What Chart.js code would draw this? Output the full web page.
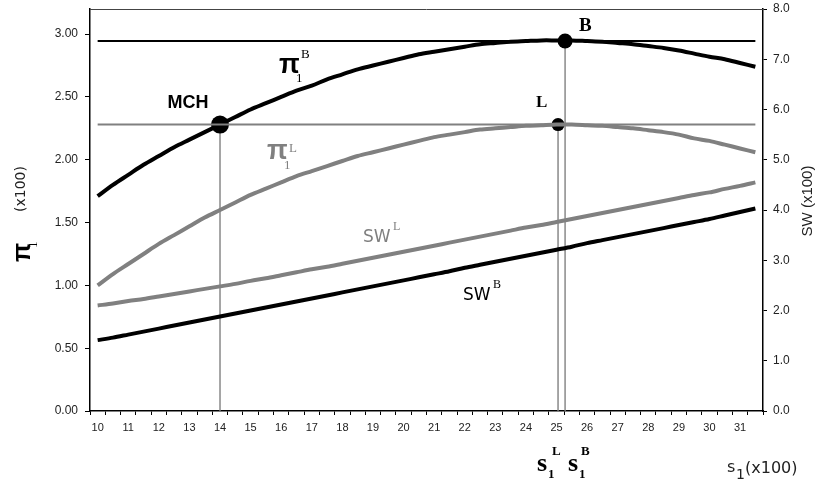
<!DOCTYPE html>
<html>
<head>
<meta charset="utf-8">
<script src="https://cdn.jsdelivr.net/npm/chart.js@4.4.1/dist/chart.umd.min.js"></script>
<style>
  body { margin: 0; background: #fff; }
  #chart { display: block; }
</style>
</head>
<body>
<canvas id="chart" width="820" height="480"></canvas>
<script>
// s1 (x100), one point every half unit
const sValues = [10, 10.5, 11, 11.5, 12, 12.5, 13, 13.5, 14, 14.5, 15, 15.5, 16, 16.5, 17, 17.5,
  18, 18.5, 19, 19.5, 20, 20.5, 21, 21.5, 22, 22.5, 23, 23.5, 24, 24.5, 25, 25.5,
  26, 26.5, 27, 27.5, 28, 28.5, 29, 29.5, 30, 30.5, 31, 31.5];

// left axis: pi1 (x100)
const piB = [1.71, 1.80, 1.88, 1.96, 2.03, 2.10, 2.16, 2.22, 2.28, 2.34, 2.40, 2.45, 2.50, 2.55, 2.59, 2.64,
  2.68, 2.72, 2.75, 2.78, 2.81, 2.84, 2.86, 2.88, 2.90, 2.92, 2.93, 2.94, 2.945, 2.95, 2.95, 2.95,
  2.945, 2.94, 2.93, 2.92, 2.905, 2.89, 2.87, 2.845, 2.82, 2.80, 2.77, 2.74];
const piL = [1.00, 1.09, 1.17, 1.25, 1.33, 1.40, 1.47, 1.54, 1.60, 1.66, 1.72, 1.77, 1.82, 1.87, 1.91, 1.95,
  1.99, 2.03, 2.06, 2.09, 2.12, 2.15, 2.18, 2.20, 2.22, 2.24, 2.25, 2.26, 2.27, 2.275, 2.28, 2.28,
  2.275, 2.27, 2.26, 2.25, 2.235, 2.22, 2.20, 2.17, 2.15, 2.12, 2.09, 2.06];

// right axis: SW (x100)
const swL = [2.10, 2.14, 2.19, 2.23, 2.28, 2.33, 2.38, 2.43, 2.48, 2.53, 2.59, 2.64, 2.70, 2.76, 2.82, 2.87,
  2.93, 2.99, 3.05, 3.11, 3.17, 3.23, 3.29, 3.35, 3.41, 3.47, 3.53, 3.59, 3.65, 3.70, 3.76, 3.82,
  3.88, 3.94, 4.00, 4.06, 4.12, 4.18, 4.24, 4.30, 4.35, 4.42, 4.48, 4.55];
const swB = [1.41, 1.46, 1.52, 1.58, 1.64, 1.70, 1.76, 1.82, 1.88, 1.94, 2.00, 2.06, 2.12, 2.18, 2.24, 2.30,
  2.36, 2.42, 2.48, 2.54, 2.60, 2.66, 2.72, 2.78, 2.85, 2.91, 2.97, 3.03, 3.09, 3.15, 3.21, 3.27,
  3.34, 3.40, 3.46, 3.52, 3.58, 3.64, 3.70, 3.76, 3.82, 3.89, 3.96, 4.03];

// marked points
const mchS = 14, mchPi = 2.28;
const sL = 25.05, piLmax = 2.28;
const sB = 25.28, piBmax = 2.945;

const xTickLabels = ['10', '11', '12', '13', '14', '15', '16', '17', '18', '19', '20',
  '21', '22', '23', '24', '25', '26', '27', '28', '29', '30', '31'];
const xMin = 9.75, xMax = 31.75;

const BLACK = '#000000';
const GRAY = '#808080';

const pts = arr => arr.map((v, i) => ({ x: sValues[i], y: v }));
const first = sValues[0], last = sValues[sValues.length - 1];

const ctx = document.getElementById('chart');

const textPlugin = {
  id: 'texts',
  afterDraw(chart) {
    const c = chart.ctx;
    const a = chart.chartArea;
    c.save();
    // top frame line
    c.strokeStyle = '#444';
    c.lineWidth = 1;
    c.beginPath();
    c.moveTo(a.left, a.top + 0.5);
    c.lineTo(a.right, a.top + 0.5);
    c.stroke();

    const put = (txt, x, y, font, color, align) => {
      c.font = font;
      c.fillStyle = color;
      c.textAlign = align || 'left';
      c.textBaseline = 'alphabetic';
      c.fillText(txt, x, y);
    };
    const SERIF = '"Liberation Serif", serif';
    const SANS = '"Liberation Sans", Arial, sans-serif';
    const WIDE = '"DejaVu Sans", sans-serif';

    put('MCH', 188, 108, 'bold 18px ' + SANS, BLACK, 'center');
    put('B', 579, 31, 'bold 19px ' + SERIF, BLACK);
    put('L', 536, 107, 'bold 17px ' + SERIF, BLACK);

    // pi1^B
    put('\u03c0', 279, 73, 'bold 27px ' + SANS, BLACK);
    put('1', 296, 82, '13px ' + SERIF, BLACK);
    put('B', 301, 58, '13px ' + SERIF, BLACK);
    // pi1^L
    put('\u03c0', 267, 159, 'bold 27px ' + SANS, GRAY);
    put('1', 284, 169, '13px ' + SERIF, GRAY);
    put('L', 289, 152, '13px ' + SERIF, GRAY);

    // SW labels
    put('SW', 363, 242, '17px ' + WIDE, GRAY);
    put('L', 393, 230, '12px ' + SERIF, GRAY);
    put('SW', 463, 300, '17px ' + WIDE, BLACK);
    put('B', 493, 288, '12px ' + SERIF, BLACK);

    // s1^L, s1^B
    put('s', 537, 471, 'bold 26px ' + SERIF, BLACK);
    put('1', 548, 478, 'bold 13px ' + SERIF, BLACK);
    put('L', 552, 455, 'bold 13px ' + SERIF, BLACK);
    put('s', 568, 471, 'bold 26px ' + SERIF, BLACK);
    put('1', 579, 478, 'bold 13px ' + SERIF, BLACK);
    put('B', 581, 455, 'bold 13px ' + SERIF, BLACK);

    // x axis title
    put('s', 727, 472, '16px ' + WIDE, '#222');
    put('1', 736, 479, '14px ' + WIDE, '#222');
    put('(x100)', 745, 473, '16px ' + WIDE, '#222');

    // left title, rotated
    c.save();
    c.translate(30, 262);
    c.rotate(-Math.PI / 2);
    put('\u03c0', 0, 0, 'bold 25px ' + SANS, BLACK);
    put('1', 14, 7, '13px ' + SERIF, BLACK);
    put('(x100)', 50, -5, '14px ' + WIDE, '#222');
    c.restore();

    // right title, rotated
    c.save();
    c.translate(808, 201);
    c.rotate(-Math.PI / 2);
    c.font = '15px ' + SANS;
    c.fillStyle = '#222';
    c.textAlign = 'center';
    c.textBaseline = 'middle';
    c.fillText('SW (x100)', 0, 0);
    c.restore();

    c.restore();
  }
};

const lineDs = (data, color, width, axis) => ({
  data: data,
  borderColor: color,
  backgroundColor: color,
  borderWidth: width,
  pointRadius: 0,
  tension: 0.3,
  fill: false,
  yAxisID: axis
});

const markDs = (s, v, r) => ({
  data: [{ x: s, y: 0 }, { x: s, y: v }],
  borderColor: GRAY,
  borderWidth: 1.4,
  pointRadius: [0, r],
  pointBackgroundColor: BLACK,
  pointBorderColor: BLACK,
  pointBorderWidth: 0,
  fill: false,
  yAxisID: 'y'
});

// fixed plot box: left 90, right 763, top 8, bottom 411
const fixWidth = w => scale => {
  scale.width = w;
  scale.paddingTop = 0;
  scale.paddingBottom = 0;
};

new Chart(ctx, {
  type: 'line',
  data: {
    datasets: [
      lineDs([{ x: first, y: piLmax }, { x: last, y: piLmax }], GRAY, 2, 'y'),
      lineDs([{ x: first, y: piBmax }, { x: last, y: piBmax }], BLACK, 2, 'y'),
      lineDs(pts(swB), BLACK, 4, 'y2'),
      lineDs(pts(swL), GRAY, 4, 'y2'),
      lineDs(pts(piL), GRAY, 4, 'y'),
      lineDs(pts(piB), BLACK, 4, 'y'),
      markDs(mchS, mchPi, 9),
      markDs(sL, piLmax, 6.5),
      markDs(sB, piBmax, 7.5)
    ]
  },
  options: {
    responsive: false,
    animation: false,
    devicePixelRatio: 1,
    layout: { padding: { top: 8, left: 0, right: 0, bottom: 0 } },
    plugins: {
      legend: { display: false },
      tooltip: { enabled: false }
    },
    scales: {
      x: {
        type: 'linear',
        min: xMin,
        max: xMax,
        afterBuildTicks: scale => {
          const t = [];
          for (let v = xMin; v <= xMax + 1e-9; v += 0.5) t.push({ value: v });
          scale.ticks = t;
        },
        afterFit: scale => {
          scale.height = 69;
          scale.paddingLeft = 0;
          scale.paddingRight = 0;
        },
        ticks: {
          autoSkip: false,
          maxRotation: 0,
          padding: 6,
          labelOffset: 7.65,
          font: { size: 11 },
          color: '#222',
          callback: v => {
            const k = v - xMin;
            if (Math.abs(k - Math.round(k)) > 0.01) return '';
            return xTickLabels[Math.round(k)] || '';
          }
        },
        grid: { drawOnChartArea: false, drawTicks: true, tickLength: 4, color: BLACK, tickWidth: 1 },
        border: { display: true, color: BLACK, width: 1.5 }
      },
      y: {
        position: 'left',
        min: 0,
        max: 3.2,
        afterFit: fixWidth(90),
        ticks: {
          stepSize: 0.5,
          includeBounds: false,
          padding: 7,
          font: { size: 12 },
          color: '#222',
          callback: v => v.toFixed(2)
        },
        grid: { drawOnChartArea: false, tickLength: 5, color: BLACK },
        border: { display: true, color: BLACK, width: 1.5 }
      },
      y2: {
        position: 'right',
        min: 0,
        max: 8,
        afterFit: fixWidth(57),
        ticks: {
          stepSize: 1,
          padding: 6,
          font: { size: 12 },
          color: '#222',
          callback: v => v.toFixed(1)
        },
        grid: { drawOnChartArea: false, tickLength: 4, color: BLACK },
        border: { display: true, color: BLACK, width: 1.5 }
      }
    }
  },
  plugins: [textPlugin]
});
</script>
</body>
</html>
